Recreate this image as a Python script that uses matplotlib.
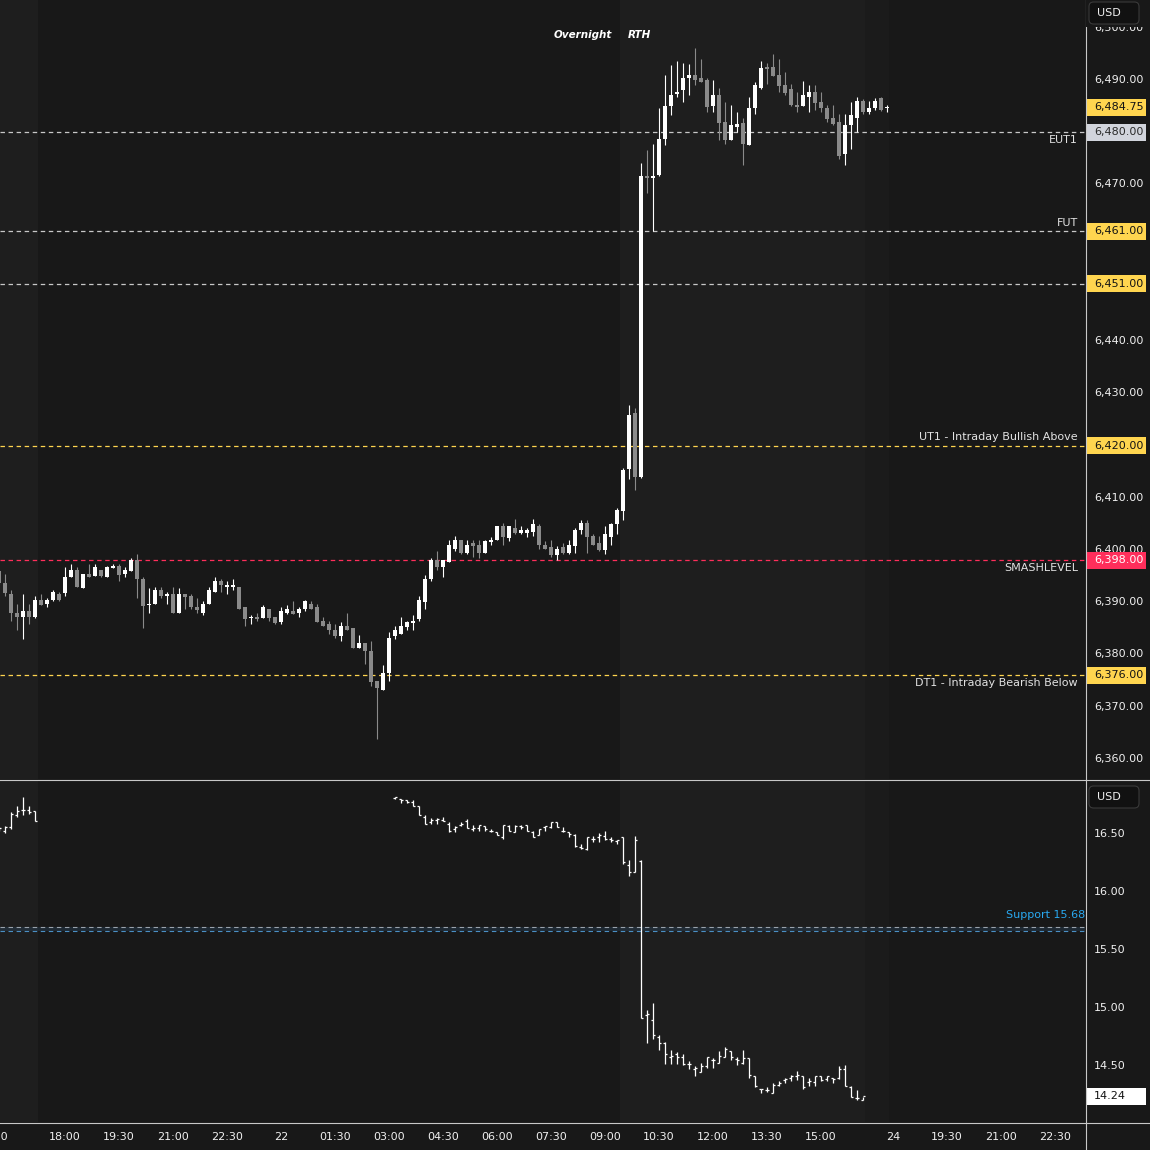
import matplotlib
matplotlib.use("Agg")
import matplotlib.pyplot as plt
import numpy as np
from matplotlib.patches import Rectangle, FancyBboxPatch
from matplotlib.lines import Line2D

plt.rcParams['font.family'] = ['DejaVu Sans']
plt.rcParams['lines.scale_dashes'] = False

BG = "#181818"
BG_SESSION = "#1e1e1e"
BG_MID = "#1b1b1b"
UP = "#ffffff"
DOWN = "#8a8a8a"
TXT = "#e2e2e2"
AXIS_TXT = "#f0f0f0"
YELLOW = "#ffd54f"
RED = "#ff2e5b"
SEP = "#c8c8c8"

# bar index: 0 = 18:00 on the 21st, 10 minute bars (weekend gap collapsed)
es_idx = np.arange(-11, 138)
es_ohlc = [
    (6396, 6396.25, 6393.25, 6393.75), (6393.75, 6395.5, 6391.25, 6391.75), (6391.5, 6392.25, 6386.5, 6388),
    (6388, 6389.75, 6384.75, 6387.25), (6387.25, 6391.5, 6383, 6388.25), (6388.25, 6389.75, 6385.75, 6387.25),
    (6387.25, 6391.25, 6387, 6390.5), (6390.5, 6391.5, 6389.5, 6389.5), (6389.75, 6390.75, 6389, 6390.5),
    (6390.5, 6392.25, 6390.25, 6392), (6391.5, 6392, 6390.25, 6390.5),
    (6391.75, 6396.75, 6391.25, 6394.75), (6394.75, 6397.25, 6394.75, 6396.25), (6396.25, 6396.75, 6393, 6393),
    (6392.75, 6395.5, 6392.75, 6395.5), (6395.5, 6397.25, 6394.75, 6394.75), (6395, 6397.25, 6395, 6396.75),
    (6396.25, 6396.25, 6394.75, 6395), (6394.75, 6397, 6394.75, 6396.75), (6396.5, 6397.25, 6396.5, 6397),
    (6397, 6397.25, 6394, 6395.25), (6395.5, 6396.75, 6394.75, 6396.25), (6396, 6398.5, 6396, 6398),
    (6398, 6399.25, 6390.75, 6394.5), (6394.5, 6394.75, 6385, 6389.25), (6389.5, 6392.75, 6388, 6389.75),
    (6389.75, 6393, 6389.75, 6392.25), (6392.25, 6393, 6390.75, 6391.25), (6391.25, 6392, 6389.75, 6391.5),
    (6391.5, 6393, 6388, 6388), (6388, 6392.75, 6388, 6391.5), (6391.5, 6391.5, 6388.75, 6391),
    (6391.25, 6391.5, 6388.75, 6389), (6389, 6390.75, 6388, 6388.5), (6388, 6390.25, 6387.5, 6389.75),
    (6389.75, 6393, 6389.75, 6392.25), (6392, 6394.75, 6392, 6394), (6394, 6394.5, 6392, 6393.25),
    (6393, 6394, 6391.5, 6393.25), (6393, 6394.5, 6392.25, 6393.25), (6393, 6393, 6388.75, 6388.75),
    (6389, 6389, 6385.5, 6386.75), (6387, 6387.5, 6385.75, 6387.25), (6387.25, 6388, 6386.5, 6386.75),
    (6387, 6389.5, 6387, 6389), (6388.75, 6388.75, 6386.5, 6387), (6387.25, 6387.25, 6385.75, 6386),
    (6386.25, 6389, 6385.75, 6388.25), (6388, 6389.5, 6387.75, 6388.75), (6388.25, 6390.25, 6387.75, 6387.75),
    (6388, 6389, 6387.25, 6388.75), (6388.75, 6390.5, 6388.25, 6390.25), (6389.75, 6390.25, 6388.75, 6388.75),
    (6389, 6389.75, 6386.25, 6386.25), (6386.5, 6387.25, 6385.5, 6385.5), (6385.75, 6386.5, 6384, 6384.75),
    (6384.75, 6385.75, 6383.25, 6383.5), (6383.5, 6386.25, 6382.5, 6385.5), (6385.5, 6388, 6384.75, 6384.75),
    (6385, 6385, 6381.25, 6381.25), (6381.25, 6383.75, 6381.25, 6382.25), (6382.25, 6382.25, 6378.25, 6380.75),
    (6380.75, 6382.5, 6374, 6374.75), (6375, 6375, 6363.75, 6373.5), (6373.25, 6378, 6373.25, 6376.5),
    (6376.5, 6384.25, 6375, 6383.25), (6383.5, 6385.5, 6383, 6384.75), (6384, 6387.25, 6384, 6385.5),
    (6385.25, 6386.5, 6384.75, 6386.25), (6386, 6387.5, 6384.75, 6386.5), (6386.75, 6391.25, 6386.5, 6390.5),
    (6390, 6395.25, 6388.75, 6394.5), (6394.5, 6398.5, 6394, 6398), (6398, 6399.75, 6396.25, 6396.75),
    (6396.75, 6398, 6394.75, 6398), (6397.75, 6402, 6397.75, 6401), (6400.25, 6402.75, 6399.75, 6402),
    (6402, 6402, 6399.25, 6399.5), (6399.5, 6402, 6399.25, 6401), (6401.25, 6402, 6398.75, 6400.75),
    (6401, 6402, 6398.5, 6399.5), (6399.5, 6402, 6399.5, 6401.75), (6401.5, 6402.5, 6401, 6402),
    (6402, 6404.5, 6402, 6404.5), (6404.5, 6405.25, 6401, 6402.5), (6402.25, 6404.5, 6401.75, 6404.5),
    (6404.25, 6406, 6403, 6403.25), (6403.25, 6404.5, 6403, 6403.75), (6403.25, 6404.25, 6402.5, 6403.75),
    (6403.5, 6406, 6402.75, 6405), (6404.5, 6405, 6400.25, 6401), (6401, 6401.75, 6400.25, 6400.25),
    (6400.5, 6402, 6398.75, 6399), (6399, 6400.75, 6398, 6400.25), (6400.5, 6401.25, 6399.25, 6399.5),
    (6399.5, 6402, 6399.25, 6401), (6400.75, 6404.25, 6399.5, 6403.75), (6403.75, 6405.75, 6403, 6405.25),
    (6405.25, 6405.75, 6399.5, 6402.5), (6402.75, 6403, 6401, 6401), (6401.25, 6402.75, 6399.75, 6400),
    (6400, 6404.5, 6399.25, 6403), (6402.5, 6405.25, 6401, 6405), (6405, 6408, 6403, 6407.75),
    (6407.5, 6415.75, 6405.75, 6415.25), (6415.5, 6427.75, 6413.5, 6425.75), (6426.25, 6427.25, 6411.5, 6414),
    (6414, 6474, 6413.75, 6471.5), (6471.5, 6476.5, 6468.25, 6471.25), (6471.25, 6477.75, 6461, 6471.5),
    (6471.75, 6484.5, 6471.5, 6478.75), (6478.75, 6491, 6477.5, 6485), (6485, 6492.75, 6483.25, 6487),
    (6487.25, 6493.5, 6486.75, 6487.75), (6488, 6493.25, 6485.75, 6490.25), (6490.25, 6493, 6487, 6491),
    (6491, 6496, 6489, 6490), (6490.25, 6494, 6489.5, 6489.5), (6490, 6490.25, 6483.75, 6484.75),
    (6485, 6490, 6483.75, 6487), (6487, 6488.5, 6478.5, 6481.75), (6482, 6485.75, 6477.75, 6478.5),
    (6478.5, 6485.25, 6478.5, 6481.25), (6481, 6483.75, 6480, 6481.5), (6481.75, 6482.75, 6473.75, 6477.75),
    (6477.5, 6486.75, 6477.5, 6484.5), (6484.5, 6489.5, 6483.5, 6489), (6488.5, 6493.5, 6488.25, 6492.25),
    (6492.5, 6493.25, 6489.25, 6492), (6492.5, 6495, 6490.75, 6490.75), (6491, 6494, 6487.75, 6488.75),
    (6489, 6491.5, 6487, 6487.5), (6488.25, 6489.25, 6485, 6485.25), (6485.25, 6487.75, 6483.75, 6484.75),
    (6485, 6489.75, 6485, 6487), (6486.75, 6489, 6483.75, 6487.75), (6487.75, 6489, 6484.25, 6485.5),
    (6485.75, 6487.75, 6483.75, 6484.5), (6484.5, 6485.25, 6482, 6482.5), (6482.75, 6485.25, 6481.25, 6481.5),
    (6482, 6483.5, 6474.75, 6475.5), (6475.75, 6483.5, 6473.75, 6481.25), (6481.25, 6485.75, 6476.75, 6483.25),
    (6482.75, 6486.75, 6480, 6486), (6486, 6486.25, 6483.5, 6483.75), (6483.75, 6486, 6483.5, 6484.5),
    (6484.5, 6486.5, 6484.25, 6486), (6486.5, 6486.75, 6484, 6484.25), (6484.5, 6485.25, 6483.75, 6484.75),
]
es_open = np.array([r[0] for r in es_ohlc])
es_high = np.array([r[1] for r in es_ohlc])
es_low = np.array([r[2] for r in es_ohlc])
es_close = np.array([r[3] for r in es_ohlc])

# VIX trades 03:15 - 17:15, so the night is empty
vix_idx = np.array(list(range(-11, -4)) + list(range(55, 134)))
vix_ohlc = [
    (16.55, 16.56, 16.53, 16.55), (16.53, 16.57, 16.51, 16.56), (16.56, 16.69, 16.54, 16.67),
    (16.66, 16.74, 16.65, 16.70), (16.71, 16.82, 16.66, 16.71), (16.71, 16.74, 16.67, 16.69),
    (16.70, 16.70, 16.61, 16.61),
    (16.81, 16.82, 16.80, 16.82), (16.80, 16.80, 16.77, 16.79), (16.79, 16.79, 16.77, 16.78),
    (16.78, 16.79, 16.74, 16.74), (16.74, 16.74, 16.66, 16.66), (16.65, 16.66, 16.59, 16.59),
    (16.60, 16.64, 16.59, 16.62), (16.62, 16.64, 16.59, 16.63), (16.62, 16.65, 16.61, 16.61),
    (16.59, 16.60, 16.52, 16.53), (16.54, 16.57, 16.52, 16.56), (16.58, 16.60, 16.57, 16.59),
    (16.61, 16.63, 16.55, 16.55), (16.54, 16.58, 16.53, 16.55), (16.55, 16.58, 16.53, 16.58),
    (16.57, 16.57, 16.53, 16.54), (16.53, 16.54, 16.52, 16.53), (16.52, 16.52, 16.49, 16.49),
    (16.47, 16.58, 16.46, 16.58), (16.57, 16.58, 16.53, 16.53), (16.52, 16.58, 16.52, 16.57),
    (16.57, 16.58, 16.54, 16.56), (16.58, 16.58, 16.53, 16.53), (16.52, 16.53, 16.47, 16.47),
    (16.49, 16.54, 16.49, 16.54), (16.56, 16.57, 16.53, 16.57), (16.56, 16.60, 16.55, 16.60),
    (16.60, 16.60, 16.56, 16.56), (16.53, 16.56, 16.52, 16.53), (16.52, 16.52, 16.47, 16.50),
    (16.49, 16.50, 16.39, 16.40), (16.39, 16.41, 16.37, 16.38), (16.37, 16.47, 16.36, 16.47),
    (16.46, 16.48, 16.43, 16.46), (16.47, 16.51, 16.43, 16.49), (16.48, 16.53, 16.45, 16.46),
    (16.46, 16.47, 16.43, 16.45), (16.44, 16.45, 16.41, 16.45), (16.47, 16.47, 16.24, 16.26),
    (16.23, 16.28, 16.14, 16.17), (16.17, 16.48, 16.17, 16.45), (16.27, 16.28, 14.91, 14.91),
    (14.94, 14.98, 14.70, 14.95), (14.90, 15.04, 14.73, 14.77), (14.75, 14.77, 14.64, 14.70),
    (14.70, 14.71, 14.52, 14.60), (14.58, 14.64, 14.52, 14.59), (14.60, 14.62, 14.52, 14.58),
    (14.58, 14.60, 14.51, 14.52), (14.52, 14.54, 14.47, 14.52), (14.47, 14.50, 14.41, 14.48),
    (14.45, 14.53, 14.45, 14.50), (14.50, 14.58, 14.48, 14.58), (14.55, 14.57, 14.48, 14.55),
    (14.53, 14.63, 14.53, 14.59), (14.58, 14.66, 14.58, 14.65), (14.63, 14.63, 14.55, 14.58),
    (14.56, 14.58, 14.51, 14.55), (14.53, 14.64, 14.52, 14.57), (14.57, 14.57, 14.40, 14.42),
    (14.41, 14.41, 14.32, 14.33), (14.30, 14.30, 14.27, 14.30), (14.29, 14.32, 14.28, 14.29),
    (14.27, 14.35, 14.27, 14.34), (14.34, 14.37, 14.33, 14.35), (14.38, 14.40, 14.35, 14.39),
    (14.40, 14.42, 14.37, 14.41), (14.41, 14.46, 14.38, 14.42), (14.41, 14.41, 14.30, 14.32),
    (14.36, 14.40, 14.33, 14.37), (14.36, 14.41, 14.33, 14.41), (14.41, 14.41, 14.37, 14.38),
    (14.39, 14.41, 14.37, 14.41), (14.40, 14.40, 14.35, 14.39), (14.40, 14.50, 14.39, 14.47),
    (14.47, 14.51, 14.33, 14.33), (14.32, 14.33, 14.23, 14.23), (14.22, 14.29, 14.21, 14.22),
    (14.21, 14.23, 14.21, 14.24),
]
vix_open = np.array([r[0] for r in vix_ohlc])
vix_high = np.array([r[1] for r in vix_ohlc])
vix_low = np.array([r[2] for r in vix_ohlc])
vix_close = np.array([r[3] for r in vix_ohlc])

# key levels
level_prices = [6480, 6461, 6451, 6420, 6398, 6376]
level_names = ["EUT1", "FUT", "", "UT1 - Intraday Bullish Above", "SMASHLEVEL", "DT1 - Intraday Bearish Below"]
level_side = ["below", "above", "above", "above", "below", "below"]
level_colors = ["#c8c8c8", "#c8c8c8", "#c8c8c8", YELLOW, RED, YELLOW]
level_box = ["#d1d4dc", YELLOW, YELLOW, YELLOW, RED, YELLOW]
level_box_txt = ["#2a2a2a", "#131313", "#131313", "#131313", "#ffffff", "#131313"]
last_price = 6484.75
# scale labels fully hidden behind level boxes are left out
es_ticks = [6360, 6370, 6380, 6390, 6400, 6410, 6430, 6440, 6470, 6490, 6500]
vix_ticks = [14.5, 15.0, 15.5, 16.0, 16.5]
vix_last = 14.24
support_level = 15.68

time_ticks = [-12, 0, 9, 18, 27, 36, 45, 54, 63, 72, 81, 90, 99, 108, 117, 126, 138, 147, 156, 165]
time_labels = ["16:00", "18:00", "19:30", "21:00", "22:30", "22", "01:30", "03:00", "04:30", "06:00",
               "07:30", "09:00", "10:30", "12:00", "13:30", "15:00", "24", "19:30", "21:00", "22:30"]

W = H = 1150
fig = plt.figure(figsize=(W / 100, H / 100), dpi=100, facecolor=BG)
PLOT_R = 1085
ax1 = fig.add_axes([0, 1 - 779 / H, PLOT_R / W, 779 / H])
ax2 = fig.add_axes([0, 1 - 1122 / H, PLOT_R / W, 342 / H])

xlim = (-65 / 6, (PLOT_R - 65) / 6)
for ax in (ax1, ax2):
    ax.set_facecolor(BG)
    ax.set_xlim(*xlim)
    ax.set_xticks([])
    ax.set_yticks([])
    for s in ax.spines.values():
        s.set_visible(False)
    # session shading
    ax.axvspan(xlim[0], -4.5, color=BG_SESSION, lw=0, zorder=0)
    ax.axvspan(92.5, 133.3, color=BG_SESSION, lw=0, zorder=0)
    ax.axvspan(133.3, 137.3, color=BG_MID, lw=0, zorder=0)

ax1.set_ylim(6480 - 647 / 5.225, 6480 + 132 / 5.225)
ax2.set_ylim(16.5 - 288 / 116, 16.5 + 54 / 116)

px1 = (ax1.get_ylim()[1] - ax1.get_ylim()[0]) / 779
px2 = (ax2.get_ylim()[1] - ax2.get_ylim()[0]) / 342

# candles
up = es_close >= es_open
cols = np.where(up, UP, DOWN)
ax1.vlines(es_idx, es_low, es_high, colors=cols, lw=0.8, zorder=3)
body_lo = np.minimum(es_open, es_close)
body_h = np.maximum(np.abs(es_close - es_open), px1 * 1.2)
ax1.bar(es_idx, body_h, bottom=body_lo, width=0.8, color=cols, linewidth=0, zorder=4)

# level lines
ytr1 = ax1.get_yaxis_transform()
for p, name, side, c in zip(level_prices, level_names, level_side, level_colors):
    ax1.axhline(p, color=c, lw=0.9, linestyle=(0, (3.2, 2.6)), zorder=2)
    if name:
        if side == "above":
            ax1.text(1078 / PLOT_R, p + 3 * px1, name, transform=ytr1, ha="right", va="bottom",
                     color=TXT, fontsize=8, zorder=6)
        else:
            ax1.text(1078 / PLOT_R, p - 3 * px1, name, transform=ytr1, ha="right", va="top",
                     color=TXT, fontsize=8, zorder=6)

# right price scale (top)
for t in es_ticks:
    ax1.text(1094 / PLOT_R, t, f"{t:,.2f}", transform=ytr1, ha="left", va="center",
             color=AXIS_TXT, fontsize=8, clip_on=False, zorder=5)


def price_box(ax, ytr, px, y, label, fc, tc):
    ax.add_patch(Rectangle((1086 / PLOT_R, y - 8.5 * px), 60 / PLOT_R, 17 * px, transform=ytr,
                           facecolor=fc, edgecolor="none", clip_on=False, zorder=7))
    ax.text(1094 / PLOT_R, y, label, transform=ytr, ha="left", va="center", color=tc,
            fontsize=8, clip_on=False, zorder=8)


for p, fc, tc in zip(level_prices, level_box, level_box_txt):
    price_box(ax1, ytr1, px1, p, f"{p:,.2f}", fc, tc)
price_box(ax1, ytr1, px1, last_price, f"{last_price:,.2f}", YELLOW, "#131313")

# VIX bars
ax2.vlines(vix_idx, vix_low, vix_high, colors=UP, lw=0.9, zorder=3)
ax2.hlines(vix_open, vix_idx - 0.38, vix_idx, colors=UP, lw=0.9, zorder=3)
ax2.hlines(vix_close, vix_idx, vix_idx + 0.38, colors=UP, lw=0.9, zorder=3)

ytr2 = ax2.get_yaxis_transform()
ax2.axhspan(support_level - 2 * px2, support_level + 2 * px2, color="#2a4a66", alpha=0.35, lw=0, zorder=1)
ax2.axhline(support_level + 2 * px2, color="#9aa3ad", lw=0.8, linestyle=(0, (3.2, 2.6)), zorder=2)
ax2.axhline(support_level - 2 * px2, color="#4a8fc4", lw=0.8, linestyle=(0, (3.2, 2.6)), zorder=2)
ax2.text(1.0, support_level + 9 * px2, f"Support {support_level:.2f}", transform=ytr2, ha="right",
         va="bottom", color="#29a8f0", fontsize=8, zorder=6)

for t in vix_ticks:
    ax2.text(1094 / PLOT_R, t, f"{t:.2f}", transform=ytr2, ha="left", va="center",
             color=AXIS_TXT, fontsize=8, clip_on=False, zorder=5)
price_box(ax2, ytr2, px2, vix_last, f"{vix_last:.2f}", "#ffffff", "#131313")

# time axis
for t, lab in zip(time_ticks, time_labels):
    fig.text(ax2.transData.transform((t, 0))[0] / W, 1 - 1137 / H, lab, ha="center", va="center",
             color=AXIS_TXT, fontsize=8)

# session labels
fig.text(612 / W, 1 - 35 / H, "Overnight", ha="right", va="center", color="#ffffff",
         fontsize=7.5, fontstyle="italic", fontweight="semibold")
fig.text(628 / W, 1 - 35 / H, "RTH", ha="left", va="center", color="#ffffff",
         fontsize=7.5, fontstyle="italic", fontweight="semibold")

# separators
fig.add_artist(Line2D([0, 1], [1 - 779.5 / H] * 2, transform=fig.transFigure, color=SEP, lw=0.8))
fig.add_artist(Line2D([0, 1], [1 - 1122.5 / H] * 2, transform=fig.transFigure, color=SEP, lw=0.8))
fig.add_artist(Line2D([PLOT_R / W + 0.5 / W] * 2, [0, 1], transform=fig.transFigure, color=SEP, lw=0.8))

# the top of the price scale is hidden under the currency header
fig.add_artist(Rectangle(((PLOT_R + 1) / W, 1 - 27 / H), (W - PLOT_R - 1) / W, 27 / H,
                         transform=fig.transFigure, facecolor=BG, edgecolor="none", zorder=9))

# currency boxes
for top in (2, 786):
    fig.add_artist(FancyBboxPatch((1089 / W, 1 - (top + 22) / H), 50 / W, 22 / H,
                                  boxstyle="round,pad=0,rounding_size=0.004", transform=fig.transFigure,
                                  facecolor="#111111", edgecolor="#3a3a3a", lw=0.8, zorder=10))
    fig.text(1097 / W, 1 - (top + 11) / H, "USD", ha="left", va="center", color=AXIS_TXT,
             fontsize=8, zorder=11)

fig.savefig("out.png", dpi=100, facecolor=BG)
